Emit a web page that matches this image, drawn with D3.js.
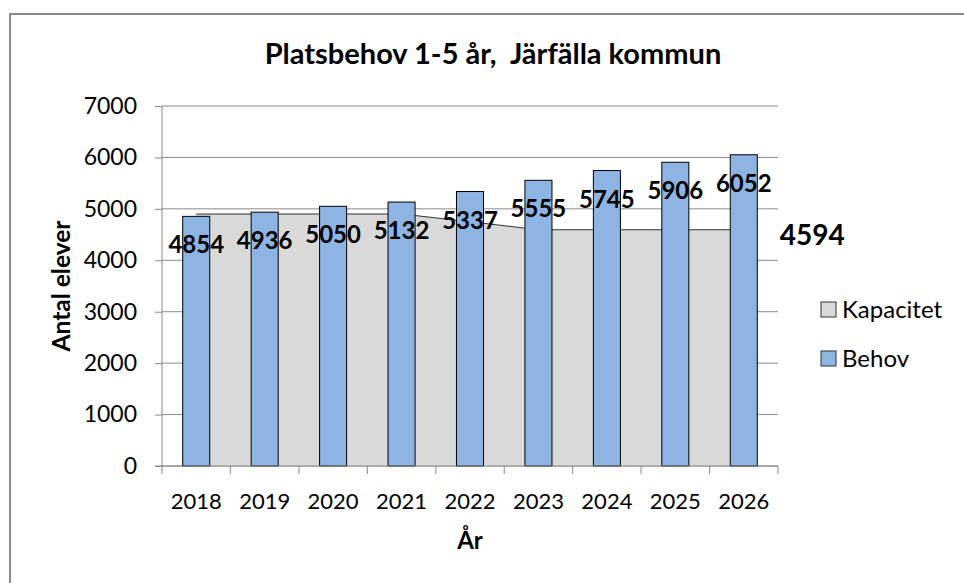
<!DOCTYPE html>
<html>
<head>
<meta charset="utf-8">
<script src="https://cdn.jsdelivr.net/npm/d3@7"></script>
<style>
  body { margin: 0; background: #fff; }
  svg text { font-family: Lato, "Open Sans", sans-serif; fill: #000; }
</style>
</head>
<body>
<svg id="chart"></svg>
<script>
//Data
var years = ["2018", "2019", "2020", "2021", "2022", "2023", "2024", "2025", "2026"];
var behov = [4854, 4936, 5050, 5132, 5337, 5555, 5745, 5906, 6052];
var kapacitet = [4900, 4900, 4900, 4900, 4750, 4594, 4594, 4594, 4594];
var yTicks = [0, 1000, 2000, 3000, 4000, 5000, 6000, 7000];

//Dimensions
var dimensions = {
    width: 964,
    height: 583,
    margin: { top: 106, right: 186, bottom: 117, left: 162 }
};

var svg = d3.select("#chart")
            .attr("width", dimensions.width)
            .attr("height", dimensions.height);

//Outer border
svg.append("rect")
    .attr("x", 10)
    .attr("y", 14)
    .attr("width", 1000)
    .attr("height", 1000)
    .attr("fill", "none")
    .attr("stroke", "#8c8c8c")
    .attr("stroke-width", 2);

//Scales
var xScale = d3.scaleBand()
               .domain(years)
               .range([dimensions.margin.left, dimensions.width - dimensions.margin.right]);

var yScale = d3.scaleLinear()
               .domain([0, 7000])
               .range([dimensions.height - dimensions.margin.bottom, dimensions.margin.top]);

var x0 = dimensions.margin.left;
var x1 = dimensions.width - dimensions.margin.right;

//Gridlines
svg.append("g")
    .selectAll("line")
    .data(yTicks)
    .join("line")
    .attr("x1", x0)
    .attr("x2", x1)
    .attr("y1", function(d){ return yScale(d); })
    .attr("y2", function(d){ return yScale(d); })
    .attr("stroke", "#8a8a8a")
    .attr("stroke-width", 1);

//Kapacitet area
var center = function(d, i){ return xScale(years[i]) + xScale.bandwidth() / 2; };
var areaGen = d3.area()
    .x(center)
    .y0(yScale(0))
    .y1(function(d){ return yScale(d); });
var lineGen = d3.line()
    .x(center)
    .y(function(d){ return yScale(d); });

svg.append("path")
    .datum(kapacitet)
    .attr("d", areaGen)
    .attr("fill", "#d9d9d9");
svg.append("path")
    .datum(kapacitet)
    .attr("d", lineGen)
    .attr("fill", "none")
    .attr("stroke", "#000")
    .attr("stroke-width", 0.8);

//Behov bars
var barW = xScale.bandwidth() * 0.395;
svg.append("g")
    .selectAll("rect")
    .data(behov)
    .join("rect")
    .attr("x", function(d, i){ return center(d, i) - barW / 2; })
    .attr("y", function(d){ return yScale(d); })
    .attr("width", barW)
    .attr("height", function(d){ return yScale(0) - yScale(d); })
    .attr("fill", "#8eb4e3")
    .attr("stroke", "#000")
    .attr("stroke-width", 1);

//Y-axis
var yAxis = svg.append("g")
    .attr("transform", "translate(" + x0 + ",0)")
    .call(d3.axisLeft(yScale).tickValues(yTicks).tickSize(7).tickPadding(18).tickFormat(d3.format("d")));
yAxis.selectAll("line, path").attr("stroke", "#8a8a8a");
yAxis.select(".domain").attr("d", "M0," + yScale(7000) + "V" + yScale(0));
yAxis.selectAll("text").style("font-size", "23px").attr("font-family", null);

//X-axis
var xAxis = svg.append("g")
    .attr("transform", "translate(0," + yScale(0) + ")");
xAxis.append("line")
    .attr("x1", x0 - 7).attr("x2", x1)
    .attr("stroke", "#8a8a8a");
xAxis.selectAll(".tk")
    .data(years.concat(["end"]))
    .join("line")
    .attr("x1", function(d, i){ return x0 + i * xScale.step(); })
    .attr("x2", function(d, i){ return x0 + i * xScale.step(); })
    .attr("y1", 0).attr("y2", 8)
    .attr("stroke", "#8a8a8a");
xAxis.selectAll("text")
    .data(years)
    .join("text")
    .attr("x", function(d){ return xScale(d) + xScale.bandwidth() / 2; })
    .attr("y", 43)
    .attr("text-anchor", "middle")
    .style("font-size", "22px")
    .text(function(d){ return d; });

//Bar labels
svg.append("g")
    .selectAll("text")
    .data(behov)
    .join("text")
    .attr("x", center)
    .attr("y", function(d){ return yScale(d) + 37; })
    .attr("text-anchor", "middle")
    .style("font-size", "24px")
    .style("font-weight", "bold")
    .text(function(d){ return d; });

//Last Kapacitet label
svg.append("text")
    .attr("x", center(kapacitet[8], 8) + 36)
    .attr("y", yScale(kapacitet[8]) + 15)
    .style("font-size", "28px")
    .style("font-weight", "bold")
    .text(kapacitet[8]);

//Title
svg.append("text")
    .attr("x", 493)
    .attr("y", 64)
    .attr("text-anchor", "middle")
    .style("font-size", "29px")
    .style("font-weight", "bold")
    .style("white-space", "pre")
    .text("Platsbehov 1-5 år,  Järfälla kommun");

//Axis titles
svg.append("text")
    .attr("x", 470)
    .attr("y", 549)
    .attr("text-anchor", "middle")
    .style("font-size", "24px")
    .style("font-weight", "bold")
    .text("År");

svg.append("text")
    .attr("transform", "rotate(-90)")
    .attr("x", -286)
    .attr("y", 70)
    .attr("text-anchor", "middle")
    .style("font-size", "24.5px")
    .style("font-weight", "bold")
    .text("Antal elever");

//Legend
var legend = svg.append("g").attr("transform", "translate(821,302)");
var legendItems = [
    { name: "Kapacitet", color: "#d9d9d9" },
    { name: "Behov", color: "#8eb4e3" }
];
var li = legend.selectAll("g")
    .data(legendItems)
    .join("g")
    .attr("transform", function(d, i){ return "translate(0," + (i * 49) + ")"; });
li.append("rect")
    .attr("width", 15).attr("height", 15)
    .attr("fill", function(d){ return d.color; })
    .attr("stroke", "#333");
li.append("text")
    .attr("x", 21)
    .attr("y", 16)
    .style("font-size", "24px")
    .text(function(d){ return d.name; });
</script>
</body>
</html>
